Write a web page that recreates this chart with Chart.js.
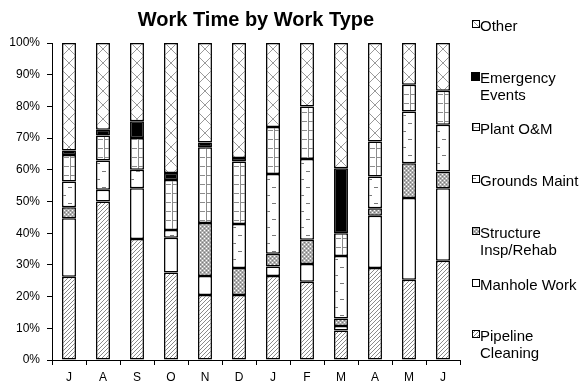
<!DOCTYPE html>
<html>
<head>
<meta charset="utf-8">
<script src="https://cdn.jsdelivr.net/npm/chart.js@4/dist/chart.umd.min.js"></script>
<style>
  html, body { margin: 0; padding: 0; background: #fff; }
  #wrap { position: relative; width: 587px; height: 389px; font-family: "Liberation Sans", Arial, sans-serif; }
  #c { position: absolute; left: 0; top: 0; }
  .item { position: absolute; left: 480px; font-size: 15px; line-height: 17px; color: #000; white-space: nowrap; }
  .item canvas { position: absolute; left: -8px; top: 3px; }
</style>
</head>
<body>
<div id="wrap">
  <canvas id="c" width="587" height="389"></canvas>
  <div id="legend"></div>
</div>
<script>
// Months of the fiscal year (July .. June)
const months = ['J', 'A', 'S', 'O', 'N', 'D', 'J', 'F', 'M', 'A', 'M', 'J'];

// Share of work time (%) per work type, stacked bottom to top
const pipelineCleaning = [26.3, 50.0, 38.2, 27.6, 20.5, 20.5, 26.5, 24.7, 9.3, 29.0, 25.3, 31.3];
const manholeWork      = [18.4, 3.7, 16.0, 11.0, 6.0, 0.0, 3.0, 5.6, 1.4, 16.5, 25.8, 22.9];
const structureRehab   = [3.5, 0.0, 0.0, 0.0, 16.7, 8.5, 4.0, 7.6, 2.4, 2.4, 11.0, 5.3];
const groundsMaint     = [8.1, 9.2, 5.8, 2.4, 0.0, 13.9, 25.2, 25.5, 19.7, 10.0, 16.3, 14.7];
const plantOM          = [8.4, 7.9, 10.0, 15.8, 23.9, 19.7, 14.8, 16.6, 7.2, 11.0, 8.4, 10.7];
const emergencyEvents  = [1.4, 1.8, 5.3, 2.2, 1.5, 1.1, 0.0, 0.0, 20.5, 0.0, 0.0, 0.0];
const otherWork        = [33.9, 27.4, 24.7, 41.0, 31.4, 36.3, 26.5, 20.0, 39.5, 31.1, 13.2, 15.1];

// Legend / series labels (line breaks as drawn in the legend)
const seriesLabels = [
  ['Pipeline', 'Cleaning'],
  ['Manhole Work'],
  ['Structure', 'Insp/Rehab'],
  ['Grounds Maint'],
  ['Plant O&M'],
  ['Emergency', 'Events'],
  ['Other']
];
const yTicks = [0, 10, 20, 30, 40, 50, 60, 70, 80, 90, 100];

// ---- fill tiles ----
function tile(w, h, draw) {
  const c = document.createElement('canvas');
  c.width = w; c.height = h;
  const g = c.getContext('2d');
  g.fillStyle = '#fff';
  g.fillRect(0, 0, w, h);
  draw(g);
  return c;
}
const tiles = {
  hatch: tile(4, 4, g => { g.fillStyle = '#8a8a8a'; for (let i = 0; i < 4; i++) g.fillRect(i, 3 - i, 1, 1); }),
  plain: tile(2, 2, () => {}),
  stipple: tile(4, 4, g => {
    g.fillStyle = '#b0b0b0'; g.fillRect(0, 0, 4, 4);
    g.fillStyle = '#fff'; g.fillRect(0, 0, 1, 1); g.fillRect(2, 2, 1, 1);
    g.fillStyle = '#7a7a7a'; g.fillRect(2, 0, 1, 1); g.fillRect(0, 2, 1, 1);
  }),
  dashes: tile(14, 16, g => { g.fillStyle = '#7a7a7a'; g.fillRect(1, 3, 3, 1); g.fillRect(6, 11, 4, 1); }),
  brick: tile(7, 9, g => { g.fillStyle = '#8c8c8c'; g.fillRect(1, 0, 1, 9); g.fillRect(1, 4, 6, 1); }),
  solid: tile(2, 2, g => { g.fillStyle = '#000'; g.fillRect(0, 0, 2, 2); }),
  cross: tile(14, 14, g => { g.fillStyle = '#9a9a9a'; for (let i = 0; i < 14; i++) { g.fillRect(i, i, 1, 1); g.fillRect(13 - i, i, 1, 1); } })
};
const seriesTiles = ['hatch', 'plain', 'stipple', 'dashes', 'brick', 'solid', 'cross'];

const BAR_FRACTION = 0.41;
const patternCache = {};
function barFill(tileName) {
  return (ctx) => {
    const chart = ctx.chart;
    const xs = chart.scales && chart.scales.x;
    const t = tiles[tileName];
    if (!xs || !xs.width || ctx.type !== 'data') return chart.ctx.createPattern(t, 'repeat');
    const w = xs.width / months.length * BAR_FRACTION;
    const left = Math.round(xs.getPixelForValue(ctx.dataIndex) - w / 2);
    const key = tileName + ':' + left;
    if (!patternCache[key]) {
      const p = chart.ctx.createPattern(t, 'repeat');
      p.setTransform(new DOMMatrix([1, 0, 0, 1, left, 0]));
      patternCache[key] = p;
    }
    return patternCache[key];
  };
}

const seriesValues = [pipelineCleaning, manholeWork, structureRehab, groundsMaint, plantOM, emergencyEvents, otherWork];

const datasets = seriesValues.map((vals, i) => ({
  label: seriesLabels[i].join(' '),
  data: vals,
  backgroundColor: barFill(seriesTiles[i]),
  borderColor: '#000',
  borderWidth: (ctx) => (ctx.raw === 0 ? 0 : 1.5),
  borderSkipped: false,
  categoryPercentage: 1.0,
  barPercentage: BAR_FRACTION
}));

Chart.defaults.font.family = '"Liberation Sans", Arial, sans-serif';
Chart.defaults.color = '#000';

new Chart(document.getElementById('c'), {
  type: 'bar',
  data: { labels: months, datasets },
  options: {
    responsive: false,
    animation: false,
    devicePixelRatio: 1,
    layout: { padding: { left: 0, right: 127, top: 0, bottom: 0 } },
    plugins: {
      legend: { display: false },
      tooltip: { enabled: false },
      title: {
        display: true,
        text: 'Work Time by Work Type',
        fullSize: false,
        color: '#000',
        font: { size: 20, weight: 'bold' },
        padding: { top: 8, bottom: 11 }
      }
    },
    scales: {
      x: {
        stacked: true,
        afterFit: (s) => { s.height = 29; },
        border: { display: true, color: '#000', width: 1 },
        grid: { display: true, offset: true, drawOnChartArea: false, drawTicks: true, tickLength: 5, color: '#000' },
        ticks: { font: { size: 12 }, color: '#000', padding: 5, maxRotation: 0 }
      },
      y: {
        stacked: true,
        min: 0,
        max: 100,
        afterFit: (s) => { s.width = 52; },
        afterBuildTicks: (s) => { s.ticks = yTicks.map(v => ({ value: v })); },
        border: { display: true, color: '#000', width: 1 },
        grid: { display: true, drawOnChartArea: false, drawTicks: true, tickLength: 5, color: '#000' },
        ticks: { font: { size: 12 }, color: '#000', padding: 7, callback: (v) => v + '%' }
      }
    }
  }
});

// ---- legend, listed top to bottom in reverse stacking order ----
const legend = document.getElementById('legend');
for (let k = 0; k < seriesLabels.length; k++) {
  const i = seriesLabels.length - 1 - k;
  const item = document.createElement('div');
  item.className = 'item';
  item.style.top = (17 + k * 51.7) + 'px';
  const sw = document.createElement('canvas');
  const size = seriesTiles[i] === 'solid' ? 9 : 8;
  sw.width = size; sw.height = size;
  const g = sw.getContext('2d');
  g.fillStyle = g.createPattern(tiles[seriesTiles[i]], 'repeat');
  g.fillRect(0, 0, size, size);
  g.strokeStyle = '#000';
  g.lineWidth = 1;
  g.strokeRect(0.5, 0.5, size - 1, size - 1);
  if (size === 9) sw.style.left = '-9px';
  item.appendChild(sw);
  seriesLabels[i].forEach((line, j) => {
    if (j > 0) item.appendChild(document.createElement('br'));
    item.appendChild(document.createTextNode(line));
  });
  legend.appendChild(item);
}
</script>
</body>
</html>
